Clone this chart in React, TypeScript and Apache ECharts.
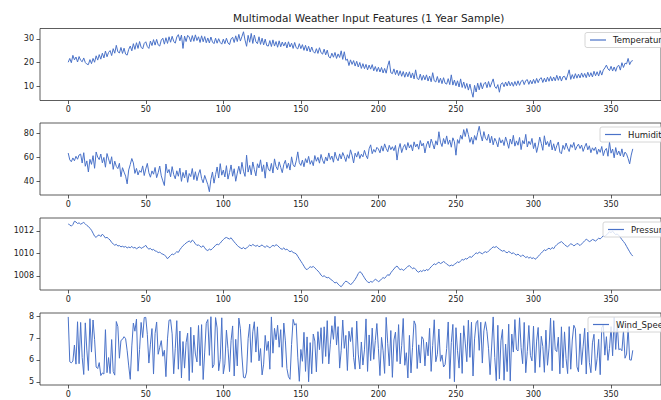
import React, { useEffect, useRef } from "react";
import * as echarts from "echarts";

const seriesNames = ["Temperature", "Humidity", "Pressure", "Wind_Speed"];
const xTicks = [0, 50, 100, 150, 200, 250, 300, 350];
const tempTicks = [10, 20, 30];
const humTicks = [40, 60, 80];
const presTicks = [1008, 1010, 1012];
const windTicks = [5, 6, 7, 8];

const temperature = [
  20.2, 21.8, 20.0, 23.1, 21.2, 22.4, 20.3, 22.6, 21.0, 20.4,
  22.0, 20.1, 19.4, 19.2, 21.3, 19.6, 21.8, 20.2, 22.9, 21.1,
  23.4, 21.5, 24.0, 22.0, 24.9, 22.5, 24.3, 25.1, 23.0, 25.9,
  24.0, 27.3, 24.6, 24.1, 26.4, 23.9, 26.1, 23.6, 23.2, 25.6,
  27.0, 25.0, 28.0, 25.6, 28.4, 26.0, 28.9, 26.5, 25.8, 28.1,
  28.8, 26.8, 26.0, 29.1, 27.2, 29.7, 27.4, 29.8, 27.5, 27.0,
  29.5, 30.3, 27.8, 30.5, 28.1, 30.9, 28.6, 31.1, 29.0, 28.2,
  30.8, 31.8, 29.2, 31.6, 26.0, 31.2, 28.9, 31.5, 30.8, 28.8,
  31.4, 29.0, 31.7, 29.3, 30.9, 28.5, 31.3, 28.8, 31.0, 28.4,
  30.4, 28.3, 30.8, 28.7, 28.0, 30.3, 28.2, 30.1, 28.5, 27.8,
  29.9, 28.0, 30.3, 28.3, 27.6, 30.0, 30.7, 28.5, 31.3, 28.9,
  31.9, 29.1, 31.0, 33.0, 29.5, 26.9, 31.5, 28.6, 32.3, 28.1,
  31.6, 28.8, 28.0, 30.9, 27.7, 30.3, 27.5, 29.9, 27.2, 27.0,
  29.3, 26.8, 29.6, 27.0, 28.9, 26.5, 29.2, 26.7, 28.7, 27.0,
  28.6, 26.2, 28.8, 26.6, 28.2, 26.0, 28.5, 26.3, 25.8, 28.0,
  25.9, 27.6, 25.2, 27.3, 24.9, 26.9, 24.5, 26.6, 24.7, 24.0,
  25.9, 23.9, 26.3, 24.2, 23.6, 25.7, 23.3, 25.3, 22.5, 22.0,
  24.0, 22.3, 24.3, 21.8, 23.7, 22.2, 25.0, 21.4, 24.6, 21.0,
  21.5, 18.8, 21.2, 19.3, 20.9, 18.6, 20.6, 18.2, 20.1, 17.6,
  19.6, 17.5, 19.3, 17.0, 19.0, 17.3, 19.2, 16.6, 18.4, 16.3,
  18.1, 16.1, 18.0, 15.7, 17.6, 15.6, 18.7, 20.8, 15.8, 15.4,
  17.4, 15.0, 16.9, 14.6, 16.6, 14.3, 16.3, 13.9, 16.0, 14.1,
  16.2, 13.6, 15.7, 13.2, 17.0, 13.4, 12.9, 15.2, 12.6, 14.7,
  12.8, 14.9, 12.3, 14.4, 12.0, 15.8, 12.4, 11.9, 14.2, 11.6,
  13.5, 11.2, 13.7, 11.4, 11.0, 13.3, 10.8, 14.9, 10.6, 12.7,
  10.3, 12.4, 9.8, 13.2, 9.6, 11.9, 9.2, 11.3, 8.5, 11.0,
  8.0, 5.5, 10.5, 7.7, 11.4, 8.6, 11.6, 9.0, 11.1, 11.8,
  9.5, 12.1, 9.7, 11.5, 13.2, 10.0, 9.2, 10.8, 7.6, 11.0,
  11.6, 9.9, 11.9, 10.2, 12.2, 10.3, 11.8, 10.1, 12.1, 10.4,
  12.4, 10.5, 12.2, 12.7, 10.8, 12.5, 12.9, 10.9, 12.6, 11.1,
  13.0, 11.3, 13.4, 11.6, 13.2, 13.7, 11.7, 13.5, 11.9, 13.9,
  12.2, 14.2, 12.3, 14.0, 12.4, 14.7, 12.6, 14.4, 12.3, 14.1,
  14.3, 12.7, 14.8, 17.0, 13.0, 15.0, 13.3, 15.4, 13.5, 15.2,
  13.6, 15.7, 13.9, 15.5, 13.7, 16.0, 14.1, 15.8, 14.0, 16.4,
  14.5, 16.2, 14.4, 16.7, 14.8, 16.9, 17.8, 19.0, 17.4, 16.7,
  18.5, 16.5, 18.2, 16.4, 18.4, 18.9, 16.9, 20.0, 18.0, 19.8,
  19.5, 21.8, 19.2, 20.6, 20.9,
];

const humidity = [
  63.5, 57.8, 56.2, 59.4, 57.0, 60.8, 58.3, 61.9, 62.6, 55.1,
  63.8, 52.4, 56.9, 47.6, 58.2, 54.0, 61.3, 50.7, 64.4, 60.1,
  58.0, 62.7, 55.3, 59.8, 51.6, 63.1, 58.6, 54.2, 60.4, 49.8,
  56.7, 52.3, 50.4, 54.9, 43.6, 51.2, 47.5, 44.1, 37.6, 49.3,
  53.8, 58.9, 55.2, 46.4, 50.6, 45.1, 48.8, 47.3, 52.7, 44.6,
  50.2, 54.8, 46.9, 43.2, 48.5, 45.7, 51.4, 42.8, 47.0, 52.6,
  44.3, 40.1, 36.2, 54.3, 46.8, 49.7, 43.5, 52.1, 45.4, 41.9,
  48.6, 44.0, 50.8, 39.7, 47.2, 42.6, 49.1, 38.9, 46.3, 43.7,
  50.5, 41.2, 47.8, 40.3, 45.9, 49.6, 42.1, 38.5, 44.7, 40.8,
  36.9, 31.0, 41.4, 47.6, 38.2, 45.3, 51.8, 42.5, 54.6, 44.9,
  49.2, 43.4, 52.9, 41.6, 47.1, 53.5, 44.0, 50.3, 39.8, 46.6,
  52.4, 45.8, 55.7, 48.2, 43.9, 61.7, 47.5, 53.1, 45.2, 56.0,
  49.7, 44.3, 54.5, 51.0, 57.8, 47.9, 53.6, 42.4, 55.9, 50.1,
  48.3, 54.8, 46.7, 58.6, 52.2, 49.4, 56.1, 51.5, 47.0, 53.9,
  57.4, 50.6, 55.0, 49.2, 60.3, 53.7, 51.8, 56.9, 64.5, 55.4,
  53.1, 57.6, 52.0, 58.8, 55.3, 60.7, 54.1, 57.2, 52.9, 61.4,
  56.6, 59.9, 55.0, 62.3, 57.5, 54.6, 60.2, 56.8, 63.6, 58.1,
  61.0, 55.8, 64.2, 59.3, 57.0, 62.8, 58.5, 63.9, 60.6, 56.4,
  62.1, 59.0, 66.2, 61.7, 55.2, 63.4, 60.1, 64.7, 58.9, 62.5,
  60.3, 65.8, 61.5, 58.7, 67.1, 70.4, 63.0, 66.5, 64.2, 68.3,
  66.9, 63.7, 69.5, 65.1, 71.2, 67.4, 64.6, 70.0, 66.3, 68.8,
  65.5, 69.9, 57.6, 66.8, 71.5, 63.9, 68.2, 70.7, 66.0, 72.3,
  67.8, 70.5, 65.3, 72.9, 68.6, 71.1, 66.7, 74.0, 69.4, 71.8,
  63.6, 70.3, 73.5, 68.0, 75.2, 71.4, 66.9, 73.8, 70.2, 81.4,
  72.6, 69.0, 75.7, 71.3, 77.9, 70.8, 74.5, 68.4, 76.3, 73.0,
  61.7, 74.8, 71.6, 78.5, 75.1, 83.2, 77.4, 84.1, 79.0, 72.5,
  76.8, 70.9, 78.2, 74.3, 80.6, 86.0, 78.7, 73.6, 81.5, 76.0,
  74.2, 79.3, 72.0, 77.6, 70.4, 75.9, 73.1, 68.7, 76.4, 71.9,
  74.6, 69.8, 77.0, 72.7, 67.5, 75.3, 71.0, 78.4, 69.3, 73.7,
  70.1, 76.6, 66.4, 74.0, 71.2, 79.2, 68.6, 73.4, 70.7, 75.8,
  67.2, 72.1, 64.0, 69.5, 76.9, 71.6, 65.8, 78.0, 70.3, 73.2,
  68.9, 74.5, 66.1, 71.3, 65.4, 69.7, 72.8, 64.2, 62.9, 70.0,
  66.5, 71.9, 67.7, 64.8, 70.6, 68.2, 72.4, 66.0, 69.1, 71.0,
  67.3, 70.2, 64.9, 68.7, 71.7, 66.2, 69.6, 63.8, 67.9, 65.6,
  68.4, 62.5, 66.8, 64.1, 69.0, 61.3, 65.7, 67.4, 60.8, 72.6,
  63.4, 66.9, 59.5, 68.1, 62.0, 65.2, 61.1, 67.0, 60.2, 64.3,
  62.6, 58.9, 54.4, 61.8, 67.0,
];

const pressure = [
  1012.60, 1012.52, 1012.41, 1012.55, 1012.84, 1012.78, 1012.64, 1012.70, 1012.58, 1012.66,
  1012.74, 1012.61, 1012.47, 1012.38, 1012.22, 1012.05, 1011.79, 1011.52, 1011.41, 1011.58,
  1011.63, 1011.49, 1011.70, 1011.55, 1011.36, 1011.42, 1011.30, 1011.18, 1010.96, 1010.84,
  1010.72, 1010.80, 1010.65, 1010.69, 1010.58, 1010.63, 1010.55, 1010.61, 1010.48, 1010.56,
  1010.50, 1010.62, 1010.47, 1010.53, 1010.41, 1010.49, 1010.58, 1010.44, 1010.52, 1010.60,
  1010.71, 1010.49, 1010.38, 1010.44, 1010.29, 1010.35, 1010.22, 1010.18, 1010.07, 1010.12,
  1009.98, 1009.93, 1009.85, 1009.74, 1009.52, 1009.68, 1009.81, 1009.95, 1009.88, 1010.02,
  1010.15, 1010.09, 1010.33, 1010.51, 1010.68, 1010.79, 1010.92, 1011.01, 1011.10, 1010.97,
  1011.18, 1011.05, 1010.84, 1010.70, 1010.76, 1010.62, 1010.55, 1010.68, 1010.49, 1010.31,
  1010.25, 1010.38, 1010.30, 1010.43, 1010.56, 1010.72, 1010.81, 1010.77, 1010.90, 1011.08,
  1011.22, 1011.35, 1011.41, 1011.33, 1011.27, 1011.38, 1011.19, 1011.02, 1010.86, 1010.70,
  1010.58, 1010.49, 1010.41, 1010.53, 1010.39, 1010.47, 1010.61, 1010.74, 1010.66, 1010.79,
  1010.70, 1010.63, 1010.72, 1010.58, 1010.66, 1010.75, 1010.61, 1010.54, 1010.67, 1010.59,
  1010.48, 1010.62, 1010.71, 1010.64, 1010.77, 1010.69, 1010.55, 1010.42, 1010.36, 1010.49,
  1010.31, 1010.38, 1010.24, 1010.15, 1010.21, 1010.08, 1010.03, 1009.96, 1009.74, 1009.52,
  1009.31, 1009.10, 1008.87, 1008.64, 1008.56, 1008.70, 1008.82, 1008.76, 1008.85, 1008.71,
  1008.58, 1008.44, 1008.29, 1008.08, 1007.95, 1008.02, 1007.91, 1007.84, 1007.88, 1007.72,
  1007.64, 1007.50, 1007.38, 1007.45, 1007.28, 1007.15, 1007.05, 1007.22, 1007.41, 1007.55,
  1007.47, 1007.36, 1007.25, 1007.33, 1007.52, 1007.70, 1007.94, 1008.21, 1008.38, 1008.29,
  1008.06, 1007.84, 1007.62, 1007.49, 1007.40, 1007.52, 1007.45, 1007.58, 1007.71, 1007.63,
  1007.49, 1007.58, 1007.74, 1007.86, 1007.79, 1007.95, 1008.12, 1008.05, 1008.28, 1008.46,
  1008.62, 1008.79, 1008.88, 1008.71, 1008.54, 1008.63, 1008.49, 1008.58, 1008.72, 1008.86,
  1008.91, 1008.78, 1008.64, 1008.73, 1008.59, 1008.41, 1008.33, 1008.47, 1008.39, 1008.52,
  1008.44, 1008.58, 1008.49, 1008.66, 1008.81, 1008.95, 1009.08, 1008.99, 1009.14, 1009.22,
  1009.10, 1009.17, 1009.28, 1009.19, 1009.05, 1008.96, 1008.88, 1008.97, 1008.91, 1009.03,
  1009.12, 1009.25, 1009.18, 1009.34, 1009.46, 1009.40, 1009.55, 1009.49, 1009.62, 1009.71,
  1009.65, 1009.78, 1009.92, 1010.05, 1009.98, 1010.11, 1010.04, 1009.96, 1010.08, 1010.15,
  1010.07, 1010.21, 1010.33, 1010.45, 1010.58, 1010.52, 1010.61, 1010.49, 1010.37, 1010.28,
  1010.19, 1010.26, 1010.13, 1010.05, 1010.17, 1010.09, 1009.97, 1010.06, 1009.92, 1009.85,
  1009.94, 1009.81, 1009.72, 1009.86, 1009.75, 1009.63, 1009.71, 1009.58, 1009.66, 1009.54,
  1009.62, 1009.48, 1009.57, 1009.73, 1009.89, 1010.02, 1010.18, 1010.31, 1010.24, 1010.39,
  1010.46, 1010.35, 1010.52, 1010.41, 1010.63, 1010.77, 1010.88, 1010.96, 1011.04, 1010.91,
  1010.78, 1010.66, 1010.59, 1010.72, 1010.85, 1010.79, 1010.67, 1010.74, 1010.88, 1010.81,
  1010.69, 1010.83, 1010.97, 1011.12, 1011.25, 1011.16, 1011.04, 1011.11, 1011.23, 1011.18,
  1011.09, 1011.21, 1011.34, 1011.28, 1011.42, 1011.55, 1011.49, 1011.63, 1011.78, 1011.91,
  1011.84, 1011.97, 1011.79, 1011.66, 1011.72, 1011.58, 1011.41, 1011.22, 1011.05, 1010.87,
  1010.62, 1010.38, 1010.14, 1009.92, 1009.76,
];

const windSpeed = [
  7.96, 5.92, 5.87, 5.95, 6.68, 5.81, 7.74, 5.83, 7.71, 6.12,
  5.34, 7.69, 6.45, 5.52, 7.88, 6.36, 7.82, 6.94, 5.68, 5.61,
  5.88, 5.29, 5.41, 5.36, 7.38, 5.42, 6.11, 5.38, 6.93, 5.47,
  5.31, 7.75, 7.52, 6.08, 6.89, 6.94, 7.06, 6.97, 6.42, 5.73,
  5.12, 6.64, 7.68, 7.31, 7.86, 5.49, 6.47, 7.71, 7.02, 7.93,
  7.94, 7.17, 5.86, 6.72, 7.43, 5.36, 7.21, 7.73, 6.26, 6.58,
  6.88, 6.17, 6.44, 5.24, 6.96, 7.81, 7.83, 7.19, 5.37, 6.51,
  7.79, 5.58, 7.32, 5.18, 6.84, 5.63, 6.79, 7.22, 5.06, 7.49,
  5.43, 7.13, 6.27, 5.91, 7.57, 5.74, 7.61, 5.11, 6.36, 7.67,
  7.84, 6.21, 7.97, 5.64, 5.79, 7.93, 7.46, 5.51, 6.03, 7.92,
  5.37, 5.82, 7.36, 6.53, 5.47, 6.88, 7.55, 5.27, 6.94, 5.73,
  7.91, 7.42, 6.18, 5.21, 5.18, 5.45, 6.97, 7.63, 5.89, 7.28,
  7.74, 6.36, 7.51, 5.96, 6.52, 5.32, 5.81, 7.12, 6.43, 6.85,
  5.58, 7.96, 6.31, 7.44, 6.92, 7.58, 6.58, 7.38, 5.67, 7.68,
  6.87, 5.61, 5.24, 5.12, 6.71, 7.85, 7.59, 7.66, 6.13, 5.03,
  6.48, 5.94, 7.26, 5.48, 7.05, 5.01, 6.79, 5.37, 7.18, 6.86,
  5.46, 7.29, 6.47, 7.47, 5.84, 7.51, 6.16, 7.79, 5.82, 6.72,
  7.56, 6.94, 7.99, 6.68, 7.52, 5.63, 6.44, 7.82, 6.53, 7.12,
  5.52, 7.31, 6.84, 7.48, 6.12, 5.58, 7.77, 6.27, 5.59, 6.82,
  5.77, 6.46, 7.87, 5.48, 7.14, 5.97, 7.45, 6.03, 6.89, 7.66,
  6.51, 5.29, 7.03, 6.42, 5.39, 7.94, 6.76, 5.73, 7.34, 5.21,
  6.91, 7.27, 5.93, 7.61, 5.82, 6.65, 7.89, 5.76, 6.33, 5.18,
  7.12, 5.41, 6.58, 7.78, 7.59, 5.61, 6.69, 5.86, 7.06, 6.94,
  5.73, 6.81, 6.19, 7.44, 5.48, 6.67, 7.83, 5.92, 6.26, 7.41,
  5.94, 6.23, 5.68, 5.79, 6.52, 7.73, 5.15, 6.79, 7.62, 5.01,
  7.47, 6.42, 5.63, 7.23, 5.39, 7.56, 6.77, 5.92, 7.81, 6.12,
  7.72, 5.27, 6.96, 7.69, 7.80, 6.44, 7.72, 5.86, 7.33, 7.74,
  7.29, 6.51, 5.33, 6.59, 7.96, 6.11, 5.06, 7.58, 5.14, 6.87,
  7.39, 5.08, 6.72, 5.47, 7.63, 5.04, 7.18, 6.36, 7.84, 6.48,
  6.41, 7.92, 6.57, 5.83, 7.71, 5.42, 6.39, 7.57, 6.21, 5.96,
  7.54, 5.42, 6.86, 7.48, 5.67, 7.08, 6.62, 5.44, 7.36, 5.76,
  6.54, 7.91, 5.51, 7.79, 6.47, 6.38, 7.04, 5.37, 7.51, 5.64,
  7.28, 6.06, 5.38, 7.52, 5.58, 6.91, 7.58, 7.42, 5.69, 5.46,
  7.19, 5.79, 6.63, 7.44, 5.36, 7.27, 5.89, 5.42, 6.78, 7.17,
  5.52, 6.06, 6.94, 5.33, 7.46, 7.61, 6.22, 7.06, 5.98, 6.53,
  7.52, 6.19, 7.94, 6.48, 7.63, 6.47, 6.51, 6.42, 7.32, 6.08,
  6.27, 7.48, 6.01, 5.99, 6.44,
];

const allSeries = [temperature, humidity, pressure, windSpeed];
const yTicks = [tempTicks, humTicks, presTicks, windTicks];

const FONT = "DejaVu Sans";
const LINE_COLOR = "#4a72c8";
const TEXT_COLOR = "#222";
const GRID_TOPS = [28.5, 123, 218, 313];
const GRID_H = 72;
const GRID_LEFT = 40;
const GRID_W = 633;
const LEGEND_LEFTS = [585, 600, 603, 588];

function padMin(v: { min: number; max: number }) {
  return v.min - 0.05 * (v.max - v.min);
}
function padMax(v: { min: number; max: number }) {
  return v.max + 0.05 * (v.max - v.min);
}

export default function App() {
  const ref = useRef<HTMLDivElement>(null);

  useEffect(() => {
    if (!ref.current) return;
    const chart = echarts.init(ref.current, undefined, { renderer: "svg" });
    const n = temperature.length;
    const xMin = -0.05 * (n - 1);
    const xMax = (n - 1) * 1.05;

    const option: any = {
      animation: false,
      backgroundColor: "#fff",
      title: {
        text: "Multimodal Weather Input Features (1 Year Sample)",
        left: 228,
        top: 7,
        textStyle: {
          fontFamily: FONT,
          fontSize: 10.5,
          fontWeight: "normal",
          color: TEXT_COLOR,
        },
      },
      grid: GRID_TOPS.map((t) => ({
        left: GRID_LEFT,
        top: t,
        width: GRID_W,
        height: GRID_H,
        show: true,
        borderColor: "#333",
        borderWidth: 0.8,
        backgroundColor: "transparent",
      })),
      xAxis: GRID_TOPS.map((_, i) => ({
        type: "value",
        gridIndex: i,
        min: xMin,
        max: xMax,
        position: "bottom",
        axisLine: { show: false, onZero: false },
        splitLine: { show: false },
        axisTick: {
          show: true,
          inside: false,
          length: 3.5,
          lineStyle: { color: "#333", width: 0.8 },
          customValues: xTicks,
        },
        axisLabel: {
          customValues: xTicks,
          margin: 5,
          fontFamily: FONT,
          fontSize: 8,
          color: TEXT_COLOR,
          formatter: (v: number) => String(v),
        },
      })),
      yAxis: GRID_TOPS.map((_, i) => ({
        type: "value",
        gridIndex: i,
        min: padMin,
        max: padMax,
        scale: true,
        position: "left",
        axisLine: { show: false, onZero: false },
        splitLine: { show: false },
        axisTick: {
          show: true,
          inside: false,
          length: 3.5,
          lineStyle: { color: "#333", width: 0.8 },
          customValues: yTicks[i],
        },
        axisLabel: {
          customValues: yTicks[i],
          margin: 6,
          fontFamily: FONT,
          fontSize: 8,
          color: TEXT_COLOR,
          formatter: (v: number) => String(v),
        },
      })),
      legend: seriesNames.map((name, i) => ({
        data: [name],
        left: LEGEND_LEFTS[i],
        top: GRID_TOPS[i] + 4,
        icon: "rect",
        itemWidth: 16,
        itemHeight: 1.2,
        padding: [3, 5, 3, 5],
        borderColor: "#ccc",
        borderWidth: 0.8,
        borderRadius: 2,
        backgroundColor: "rgba(255,255,255,0.8)",
        selectedMode: false,
        textStyle: {
          fontFamily: FONT,
          fontSize: 8.5,
          color: TEXT_COLOR,
          padding: [0, 0, 0, 2],
        },
      })),
      series: allSeries.map((arr, i) => ({
        name: seriesNames[i],
        type: "line",
        xAxisIndex: i,
        yAxisIndex: i,
        data: arr.map((v, d) => [d, v]),
        showSymbol: false,
        symbol: "none",
        color: LINE_COLOR,
        lineStyle: { color: LINE_COLOR, width: 1 },
        clip: true,
      })),
    };

    chart.setOption(option);
    return () => chart.dispose();
  }, []);

  return (
    <div
      ref={ref}
      style={{
        position: "fixed",
        left: 0,
        top: 0,
        width: 661,
        height: 400,
        overflow: "hidden",
        background: "#fff",
      }}
    />
  );
}
